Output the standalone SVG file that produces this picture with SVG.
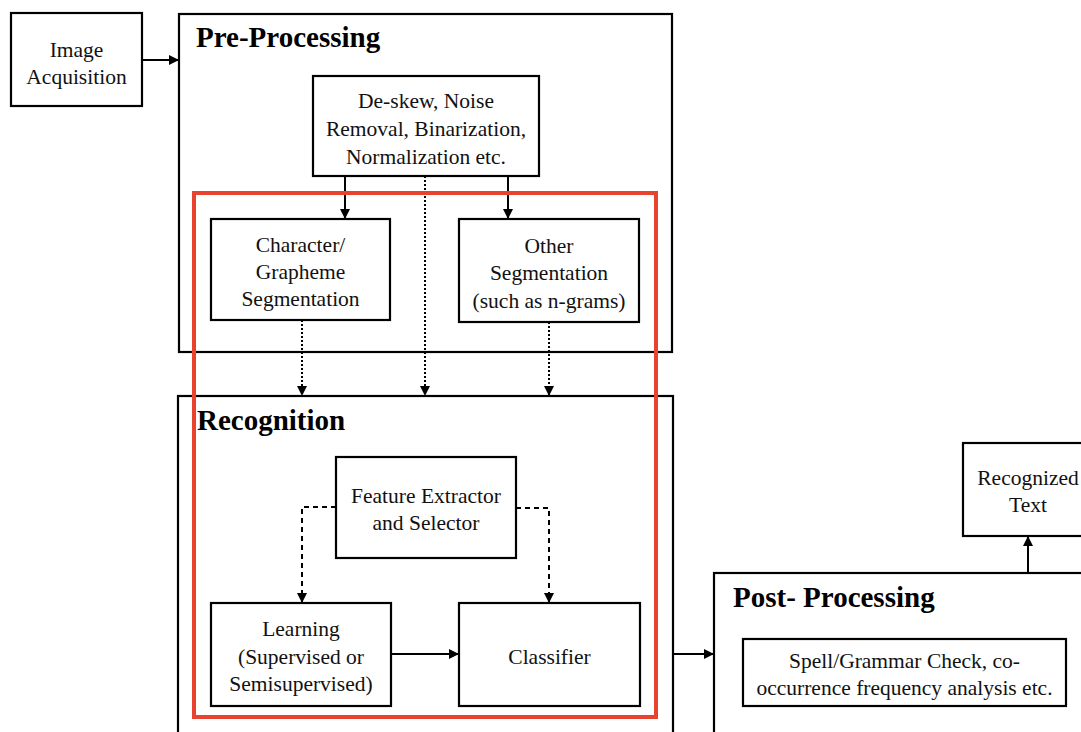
<svg xmlns="http://www.w3.org/2000/svg" width="1081" height="732" viewBox="0 0 1081 732">
<style>
.box{fill:#fff;stroke:#000;stroke-width:2.2}
.frame{fill:none;stroke:#000;stroke-width:2.2}
.t{font-family:"Liberation Serif","Times New Roman",serif;font-size:21.5px;fill:#111;text-anchor:middle}
.h{font-family:"Liberation Serif","Times New Roman",serif;font-size:29px;font-weight:bold;fill:#000}
.ln{fill:none;stroke:#000;stroke-width:2}
.dot{fill:none;stroke:#000;stroke-width:2;stroke-dasharray:2 2}
.dash{fill:none;stroke:#000;stroke-width:2;stroke-dasharray:5 4}
</style>
<defs>
<marker id="ah" viewBox="0 0 10 10" refX="10" refY="5" markerWidth="10" markerHeight="10" markerUnits="userSpaceOnUse" orient="auto">
<path d="M0,0 L10,5 L0,10 z" fill="#000"/>
</marker>
</defs>

<g id="preprocessing">
<rect class="frame" x="179" y="14" width="493" height="338"/>
<text class="h" x="196" y="47">Pre-Processing</text>
</g>
<g id="recognition">
<rect class="frame" x="178" y="396" width="495" height="345"/>
<text class="h" x="197" y="430">Recognition</text>
</g>
<g id="postprocessing">
<rect class="frame" x="714" y="573" width="380" height="170"/>
<text class="h" x="733" y="607">Post- Processing</text>
</g>

<g id="image-acquisition">
<rect class="box" x="11" y="13" width="131" height="93"/>
<text class="t" x="76.5" y="57">Image</text>
<text class="t" x="76.5" y="84">Acquisition</text>
</g>
<g id="deskew">
<rect class="box" x="313" y="76" width="226" height="100"/>
<text class="t" x="426" y="108">De-skew, Noise</text>
<text class="t" x="426" y="136">Removal, Binarization,</text>
<text class="t" x="426" y="164">Normalization etc.</text>
</g>
<g id="char-seg">
<rect class="box" x="211" y="219" width="179" height="101"/>
<text class="t" x="300.5" y="252">Character/</text>
<text class="t" x="300.5" y="279">Grapheme</text>
<text class="t" x="300.5" y="306">Segmentation</text>
</g>
<g id="other-seg">
<rect class="box" x="459" y="219" width="180" height="103"/>
<text class="t" x="549" y="253">Other</text>
<text class="t" x="549" y="280">Segmentation</text>
<text class="t" x="549" y="308">(such as n-grams)</text>
</g>
<g id="feature">
<rect class="box" x="336" y="457" width="180" height="101"/>
<text class="t" x="426" y="503">Feature Extractor</text>
<text class="t" x="426" y="530">and Selector</text>
</g>
<g id="learning">
<rect class="box" x="211" y="603" width="180" height="103"/>
<text class="t" x="301" y="636">Learning</text>
<text class="t" x="301" y="664">(Supervised or</text>
<text class="t" x="301" y="691">Semisupervised)</text>
</g>
<g id="classifier">
<rect class="box" x="459" y="603" width="181" height="103"/>
<text class="t" x="549.5" y="664">Classifier</text>
</g>
<g id="spell">
<rect class="box" x="743" y="639" width="323" height="67"/>
<text class="t" x="904.5" y="668">Spell/Grammar Check, co-</text>
<text class="t" x="904.5" y="695">occurrence frequency analysis etc.</text>
</g>
<g id="recognized-text">
<rect class="box" x="963" y="443" width="130" height="93"/>
<text class="t" x="1028" y="485">Recognized</text>
<text class="t" x="1028" y="512">Text</text>
</g>

<g id="connectors">
<path class="ln" d="M142,60 H179" marker-end="url(#ah)"/>
<path class="ln" d="M345,176 V219" marker-end="url(#ah)"/>
<path class="ln" d="M508,176 V219" marker-end="url(#ah)"/>
<path class="dot" d="M425,176 V396" marker-end="url(#ah)"/>
<path class="dot" d="M302,320 V396" marker-end="url(#ah)"/>
<path class="dot" d="M549,322 V396" marker-end="url(#ah)"/>
<path class="dash" d="M336,507 H302 V603" marker-end="url(#ah)"/>
<path class="dash" d="M516,508 H549 V603" marker-end="url(#ah)"/>
<path class="ln" d="M392,654 H459" marker-end="url(#ah)"/>
<path class="ln" d="M673,654 H714" marker-end="url(#ah)"/>
<path class="ln" d="M1028,573 V536" marker-end="url(#ah)"/>
</g>

<rect id="highlight" x="194" y="193" width="462" height="524" fill="none" stroke="#e8432e" stroke-width="4"/>
</svg>
